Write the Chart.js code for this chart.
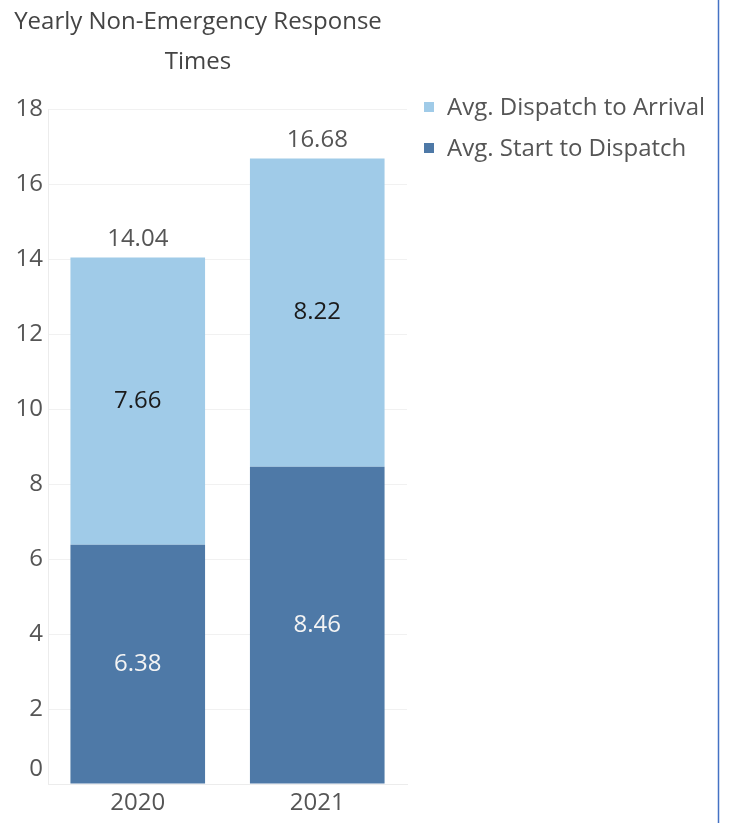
<!DOCTYPE html>
<html>
<head>
<meta charset="utf-8">
<script src="https://cdn.jsdelivr.net/npm/chart.js@4"></script>
<style>
  body { margin: 0; background: #fff; }
  #wrap { width: 732px; height: 823px; position: relative; }
</style>
</head>
<body>
<div id="wrap"><canvas id="responseChart"></canvas></div>
<script>
const years = ['2020', '2021'];
const startToDispatch = [6.38, 8.46];
const dispatchToArrival = [7.66, 8.22];
const yTicks = [0, 2, 4, 6, 8, 10, 12, 14, 16, 18];
const titleLines = ['Yearly Non-Emergency Response', 'Times'];

const FONT = '"Open Sans", "DejaVu Sans", sans-serif';
const DARK = '#4e79a7';
const LIGHT = '#a0cbe8';

// Title, legend, value labels and the side border line
Chart.register({
    id: 'decorations',
    afterDraw(chart) {
        const { ctx } = chart;
        ctx.save();

        // title
        ctx.fillStyle = '#444';
        ctx.font = '24px ' + FONT;
        ctx.textAlign = 'center';
        ctx.textBaseline = 'middle';
        titleLines.forEach((line, i) => ctx.fillText(line, 198, 22 + i * 40));

        // legend (top of stack first)
        const items = chart.data.datasets.slice().reverse();
        ctx.textAlign = 'left';
        items.forEach((ds, i) => {
            const cy = 107 + i * 41;
            ctx.fillStyle = ds.backgroundColor;
            ctx.fillRect(424, cy - 5, 10, 10);
            ctx.fillStyle = '#555';
            ctx.fillText(ds.label, 447, cy + 1);
        });

        // segment labels
        ctx.textAlign = 'center';
        chart.data.datasets.forEach((ds, di) => {
            const meta = chart.getDatasetMeta(di);
            meta.data.forEach((bar, i) => {
                ctx.fillStyle = ds.labelColor;
                ctx.fillText(ds.data[i].toFixed(2), bar.x, (bar.y + bar.base) / 2);
            });
        });

        // totals above stacks
        const topMeta = chart.getDatasetMeta(chart.data.datasets.length - 1);
        topMeta.data.forEach((bar, i) => {
            const total = chart.data.datasets.reduce((s, ds) => s + ds.data[i], 0);
            ctx.fillStyle = '#555';
            ctx.fillText(total.toFixed(2), bar.x, bar.y - 18);
        });

        // window border on the right
        ctx.strokeStyle = '#4472c4';
        ctx.lineWidth = 1.5;
        ctx.beginPath();
        ctx.moveTo(718.5, 0);
        ctx.lineTo(718.5, 823);
        ctx.stroke();

        ctx.restore();
    }
});

new Chart(document.getElementById('responseChart'), {
    type: 'bar',
    data: {
        labels: years,
        datasets: [
            {
                label: 'Avg. Start to Dispatch',
                data: startToDispatch,
                backgroundColor: DARK,
                labelColor: '#f4f4f4'
            },
            {
                label: 'Avg. Dispatch to Arrival',
                data: dispatchToArrival,
                backgroundColor: LIGHT,
                labelColor: '#1a1a1a'
            }
        ]
    },
    options: {
        responsive: true,
        maintainAspectRatio: false,
        animation: false,
        layout: { padding: { left: 0, right: 325, top: 109, bottom: 0 } },
        datasets: {
            bar: { barPercentage: 0.75, categoryPercentage: 1 }
        },
        scales: {
            x: {
                stacked: true,
                grid: { display: false, drawTicks: false },
                border: { color: '#ececec' },
                ticks: {
                    color: '#555',
                    font: { family: FONT, size: 24 },
                    padding: 5
                },
                afterFit: scale => { scale.height = 39; }
            },
            y: {
                stacked: true,
                min: 0,
                max: 18,
                afterBuildTicks: scale => {
                    scale.ticks = yTicks.map(v => ({ value: v }));
                },
                grid: { color: '#f1f1f1', drawTicks: false },
                border: { color: '#ececec' },
                ticks: {
                    color: '#555',
                    font: { family: FONT, size: 24 },
                    padding: 5,
                    callback: v => (v === 0 ? ['0', ''] : String(v))
                },
                afterFit: scale => { scale.width = 48; }
            }
        },
        plugins: {
            legend: { display: false },
            title: { display: false },
            tooltip: { enabled: false }
        }
    }
});
</script>
</body>
</html>
